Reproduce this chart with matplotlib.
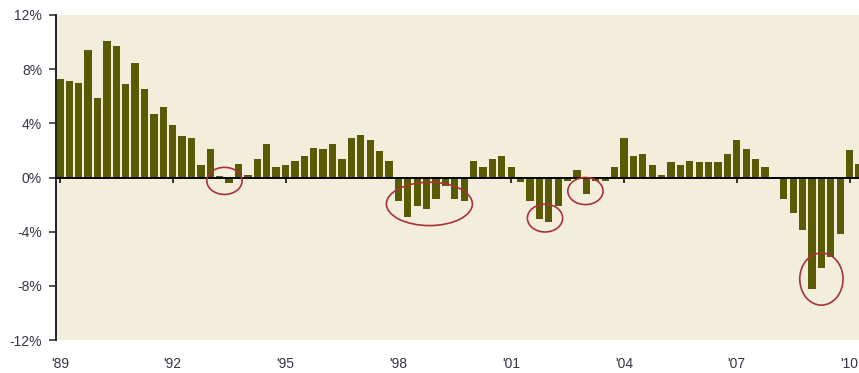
import matplotlib
matplotlib.use("Agg")
import matplotlib.pyplot as plt
from matplotlib.patches import Ellipse
from matplotlib.transforms import blended_transform_factory
import numpy as np

# Quarterly year-over-year growth, %, from Q1 1989
growth_89 = [7.3, 7.15, 7.0, 9.4, 5.9, 10.1, 9.7, 6.9, 8.45, 6.5, 4.7, 5.2]
growth_92 = [3.9, 3.05, 2.9, 0.9, 2.1, 0.1, -0.4, 1.0, 0.15, 1.35, 2.45, 0.8]
growth_95 = [0.9, 1.25, 1.6, 2.2, 2.1, 2.5, 1.4, 2.9, 3.15, 2.8, 1.95, 1.25]
growth_98 = [-1.75, -2.95, -2.1, -2.3, -1.6, -0.65, -1.6, -1.7, 1.25, 0.8, 1.4, 1.6]
growth_01 = [0.8, -0.35, -1.7, -3.05, -3.3, -2.1, -0.25, 0.55, -1.25, -0.25, -0.25, 0.8]
growth_04 = [2.9, 1.6, 1.75, 0.9, 0.2, 1.15, 0.9, 1.25, 1.15, 1.15, 1.15, 1.75]
growth_07 = [2.8, 2.1, 1.4, 0.8, -0.1, -1.6, -2.6, -3.9, -8.2, -6.7, -5.9, -4.2]
growth_10 = [2.0, 1.0]

year_labels = ["'89", "'92", "'95", "'98", "'01", "'04", "'07", "'10"]
y_ticks = [-12, -8, -4, 0, 4, 8, 12]

# Dips marked with red rings: (centre quarter, centre %, width in quarters, height in %)
highlights = [
    (17.5, -0.25, 3.75, 2.0),
    (39.3, -1.95, 9.15, 3.2),
    (51.6, -3.0, 3.75, 2.05),
    (55.9, -1.0, 3.75, 2.0),
    (81.0, -7.5, 4.6, 3.85),
]

BAR_COLOR = "#5a5a05"
PANEL_COLOR = "#f3eedc"
RING_COLOR = "#a8323c"
TEXT_COLOR = "#343444"

growth = np.array(growth_89 + growth_92 + growth_95 + growth_98 +
                  growth_01 + growth_04 + growth_07 + growth_10)
quarters = np.arange(len(growth))

plt.rcParams['font.family'] = ['Liberation Sans', 'DejaVu Sans']

fig = plt.figure(figsize=(8.59, 3.73), dpi=100)
ax = fig.add_axes([56 / 859, 1 - 340 / 373, (859 - 56) / 859, (340 - 15) / 373])
ax.set_facecolor(PANEL_COLOR)

ax.bar(quarters, growth, width=0.78, color=BAR_COLOR, zorder=2)

for xc, yc, w, h in highlights:
    ax.add_patch(Ellipse((xc, yc), w, h, fill=False, edgecolor=RING_COLOR,
                         linewidth=1.2, zorder=4))

ax.set_xlim(-0.42, 85.0)
ax.set_ylim(-12, 12)

# y axis on the left, percent labels
ax.set_yticks(y_ticks)
ax.set_yticklabels([f"{v}%" for v in y_ticks])
ax.tick_params(axis='y', direction='out', length=5, width=1.1, pad=5,
               labelsize=10, labelcolor=TEXT_COLOR, color='#222222')

# x axis runs along the zero line, year labels sit below the panel
year_pos = np.arange(0, len(growth), 12)
ax.spines['bottom'].set_position(('data', 0))
ax.spines['bottom'].set_linewidth(1.4)
ax.spines['bottom'].set_color('black')
ax.spines['bottom'].set_zorder(3)
ax.set_xticks(year_pos)
ax.set_xticklabels([])
ax.tick_params(axis='x', direction='out', length=3.5, width=1.1, color='black')

trans = blended_transform_factory(ax.transData, ax.transAxes)
for pos, lab in zip(year_pos, year_labels):
    ax.text(pos, -0.075, lab, transform=trans, ha='center', va='center',
            fontsize=10, color=TEXT_COLOR, clip_on=False)

ax.spines['left'].set_linewidth(1.4)
ax.spines['left'].set_color('#222222')
ax.spines['top'].set_visible(False)
ax.spines['right'].set_visible(False)

fig.savefig("out.png", dpi=100)
